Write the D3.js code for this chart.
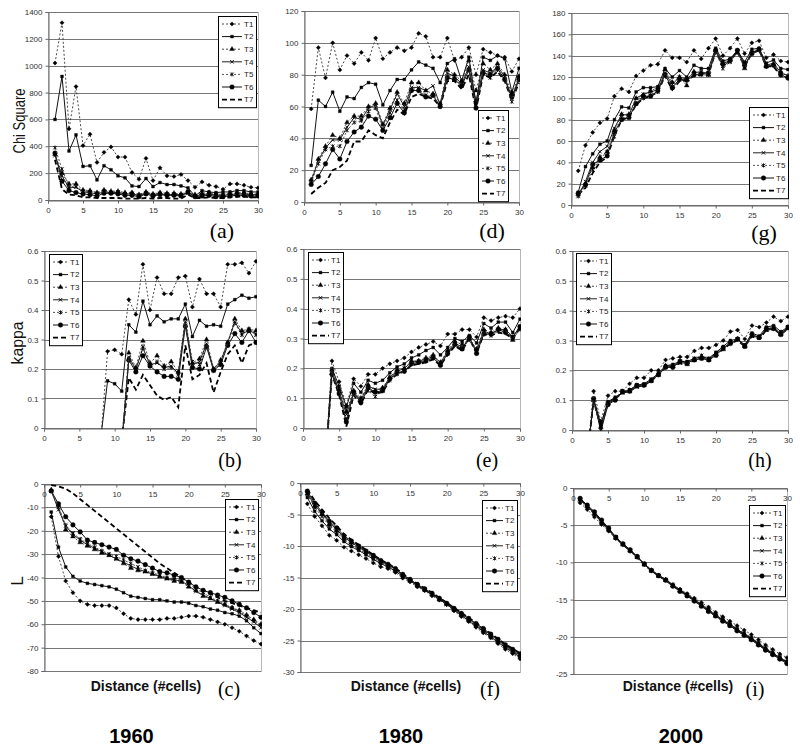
<!DOCTYPE html>
<html><head><meta charset="utf-8">
<script src="https://cdn.jsdelivr.net/npm/d3@7"></script>
<style>body{margin:0;background:#fff} svg text{font-family:Arial,"Liberation Sans",sans-serif}</style>
</head><body><svg id="chart" width="800" height="748"></svg>
<script>
const distance = [1,2,3,4,5,6,7,8,9,10,11,12,13,14,15,16,17,18,19,20,21,22,23,24,25,26,27,28,29,30];
const seriesNames = ["T1","T2","T3","T4","T5","T6","T7"];
const xTicks = [0,5,10,15,20,25,30];
const chiTicks1960 = [0,200,400,600,800,1000,1200,1400];
const chiTicks1980 = [0,20,40,60,80,100,120];
const chiTicks2000 = [0,20,40,60,80,100,120,140,160,180];
const kappaTicks = [0,0.1,0.2,0.3,0.4,0.5,0.6];
const lTicks1960 = [0,-10,-20,-30,-40,-50,-60,-70,-80];
const lTicks1980 = [0,-5,-10,-15,-20,-25,-30];
const lTicks2000 = [0,-5,-10,-15,-20,-25];
const _ = null;

const chi1960 = [
 [1020,1320,530,845,405,490,280,355,395,320,320,205,155,310,145,240,180,175,190,145,95,135,110,100,80,120,120,110,95,90],
 [600,920,365,485,250,255,150,255,225,180,165,105,100,160,100,130,115,115,105,90,30,70,60,55,60,60,70,70,60,60],
 [340,200,120,120,75,70,55,75,65,65,55,55,40,60,45,55,50,50,45,55,40,50,55,45,40,50,55,55,45,45],
 [330,180,90,95,60,55,45,60,55,55,45,45,35,50,40,45,40,40,40,50,30,40,45,35,35,40,45,45,40,40],
 [390,230,100,100,65,60,50,65,55,60,45,50,35,55,40,50,45,45,40,55,30,40,45,35,35,40,45,45,40,40],
 [350,140,70,55,45,40,30,50,50,45,35,35,25,45,30,40,35,35,30,60,25,30,35,25,25,30,35,35,30,30],
 [300,80,40,35,20,20,15,15,15,15,10,10,10,15,10,15,15,10,10,40,15,15,20,15,15,20,25,25,20,20]
];
const chi1980 = [
 [58.5,97,78,100,83,92,87,94,89,103,90,94,97,95,97,106,104,91,91,103,89,91,97,80,96,94,92,91,82,90],
 [23,64,60,69,57,66,65,72,75,74,61,70,77,77,83,88,86,84,75,87,90,76,91,62,91,89,92,90,69,84],
 [14,27,35,42,40,50,54,54,60,62,49,59,69,62,75,75,70,68,62,83,80,76,89,70,87,83,87,80,68,79],
 [13,26,34,39,39,47,53,52,59,61,48,58,68,60,72,72,70,73,61,81,79,74,85,63,83,81,85,79,65,78],
 [12,24,33,35,35,45,50,51,57,59,46,56,64,58,71,71,67,67,60,79,78,73,83,61,82,78,83,77,63,77],
 [11,16,24,33,27,38,44,47,54,52,45,53,62,56,70,70,66,67,60,78,77,73,83,59,81,80,84,77,66,77],
 [5,9,12,20,22,26,38,38,45,42,40,50,58,55,66,68,66,65,60,76,76,71,80,58,80,78,82,76,64,75]
];
const chi2000 = [
 [32,56,68,77,81,102,109,106,121,126,131,132,145,138,138,134,145,137,147,156,140,147,156,142,152,154,138,141,135,134],
 [12,36,48,57,60,80,92,91,106,110,110,111,128,120,126,120,131,128,128,147,135,137,145,134,146,147,133,136,128,127],
 [10,20,35,45,50,70,85,85,100,103,107,110,127,115,120,112,125,124,122,145,133,136,143,128,142,146,130,132,125,121],
 [9,22,40,50,55,72,85,84,100,104,106,108,124,113,120,118,124,125,123,144,130,135,144,131,142,145,131,133,124,121],
 [8,18,33,43,50,64,82,82,95,100,103,106,122,110,117,117,122,122,122,143,128,134,143,130,141,145,130,131,122,120],
 [11,19,38,42,46,68,80,82,95,102,102,107,122,110,118,117,122,123,124,145,132,136,145,131,143,146,130,131,122,119],
 [10,16,30,40,45,65,80,82,94,100,102,106,121,108,116,117,121,122,122,144,131,135,144,130,142,145,130,130,121,119]
];
const kappa1960 = [
 [_,_,_,_,_,_,_,-0.05,0.26,0.265,0.25,0.435,0.385,0.555,0.40,0.51,0.455,0.455,0.51,0.515,0.41,0.505,0.455,0.455,0.41,0.555,0.555,0.56,0.525,0.565],
 [_,_,_,_,_,_,_,-0.04,0.16,0.15,0.125,0.35,0.325,0.43,0.35,0.38,0.36,0.37,0.37,0.42,0.31,0.365,0.345,0.35,0.345,0.42,0.435,0.45,0.44,0.445],
 [_,_,_,_,_,_,_,_,_,_,-0.06,0.255,0.205,0.295,0.22,0.245,0.21,0.225,0.19,0.37,0.22,0.235,0.30,0.20,0.23,0.29,0.37,0.33,0.335,0.33],
 [_,_,_,_,_,_,_,_,_,_,-0.06,0.24,0.20,0.27,0.215,0.22,0.205,0.21,0.185,0.36,0.215,0.225,0.285,0.20,0.225,0.29,0.36,0.32,0.33,0.32],
 [_,_,_,_,_,_,_,_,_,_,-0.06,0.235,0.195,0.275,0.21,0.225,0.20,0.205,0.18,0.355,0.225,0.215,0.28,0.195,0.22,0.285,0.355,0.315,0.335,0.315],
 [_,_,_,_,_,_,_,_,_,_,-0.06,0.23,0.19,0.245,0.21,0.19,0.175,0.175,0.165,0.345,0.205,0.20,0.275,0.195,0.215,0.28,0.32,0.29,0.33,0.29],
 [_,_,_,_,_,_,_,_,_,_,-0.04,0.17,0.13,0.18,0.145,0.11,0.095,0.105,0.07,0.28,0.165,0.18,0.22,0.12,0.19,0.25,0.28,0.22,0.28,0.29]
];
const kappa1980 = [
 [_,_,-0.15,0.225,0.155,0.075,0.165,0.14,0.18,0.18,0.20,0.215,0.225,0.235,0.255,0.27,0.28,0.29,0.275,0.315,0.315,0.33,0.33,0.305,0.37,0.36,0.37,0.375,0.37,0.40],
 [_,_,-0.15,0.20,0.14,0.07,0.15,0.12,0.16,0.15,0.16,0.185,0.205,0.215,0.235,0.245,0.26,0.27,0.245,0.27,0.30,0.29,0.31,0.285,0.35,0.335,0.355,0.355,0.32,0.365],
 [_,_,-0.15,0.195,0.13,0.055,0.125,0.10,0.145,0.125,0.135,0.17,0.195,0.20,0.225,0.225,0.235,0.245,0.22,0.26,0.29,0.28,0.30,0.265,0.33,0.32,0.335,0.33,0.295,0.335],
 [_,_,-0.15,0.19,0.125,0.045,0.12,0.095,0.14,0.13,0.13,0.17,0.19,0.20,0.22,0.225,0.23,0.24,0.22,0.255,0.285,0.27,0.30,0.26,0.325,0.315,0.33,0.33,0.305,0.34],
 [_,_,-0.15,0.185,0.12,0.03,0.115,0.09,0.125,0.105,0.125,0.16,0.18,0.19,0.215,0.22,0.225,0.235,0.215,0.25,0.28,0.265,0.295,0.255,0.32,0.31,0.325,0.325,0.30,0.33],
 [_,_,-0.15,0.18,0.115,0.02,0.12,0.085,0.135,0.12,0.125,0.165,0.185,0.19,0.215,0.22,0.225,0.235,0.21,0.25,0.28,0.265,0.305,0.25,0.315,0.315,0.33,0.32,0.305,0.34],
 [_,_,-0.15,0.18,0.11,0.005,0.11,0.08,0.13,0.115,0.12,0.16,0.18,0.19,0.21,0.215,0.22,0.23,0.21,0.245,0.275,0.26,0.30,0.25,0.315,0.31,0.32,0.315,0.30,0.335]
];
const kappa2000 = [
 [_,-0.12,0.13,0.03,0.115,0.13,0.13,0.155,0.175,0.175,0.20,0.20,0.235,0.24,0.245,0.245,0.265,0.275,0.275,0.285,0.30,0.33,0.335,0.305,0.35,0.345,0.36,0.38,0.365,0.38],
 [_,-0.12,0.105,0.02,0.095,0.11,0.125,0.135,0.15,0.155,0.17,0.19,0.215,0.22,0.23,0.23,0.24,0.245,0.24,0.26,0.28,0.30,0.305,0.285,0.325,0.315,0.345,0.35,0.33,0.345],
 [_,-0.12,0.10,0.01,0.09,0.105,0.125,0.13,0.145,0.15,0.165,0.185,0.215,0.215,0.225,0.22,0.235,0.245,0.235,0.255,0.27,0.295,0.305,0.28,0.315,0.31,0.335,0.34,0.32,0.34],
 [_,-0.12,0.10,0.005,0.09,0.105,0.125,0.13,0.145,0.15,0.165,0.185,0.21,0.215,0.225,0.225,0.235,0.24,0.235,0.255,0.275,0.29,0.305,0.28,0.315,0.31,0.335,0.34,0.32,0.34],
 [_,-0.12,0.10,0.01,0.09,0.105,0.13,0.135,0.15,0.15,0.17,0.19,0.215,0.215,0.23,0.225,0.24,0.25,0.24,0.26,0.275,0.295,0.305,0.285,0.32,0.31,0.34,0.345,0.325,0.345],
 [_,-0.12,0.105,-0.005,0.085,0.10,0.13,0.13,0.15,0.15,0.165,0.185,0.21,0.21,0.23,0.225,0.235,0.24,0.235,0.25,0.275,0.29,0.305,0.28,0.32,0.31,0.34,0.34,0.32,0.345],
 [_,-0.12,0.10,0.01,0.09,0.105,0.125,0.13,0.145,0.15,0.165,0.185,0.21,0.215,0.225,0.22,0.235,0.24,0.235,0.255,0.27,0.29,0.30,0.28,0.315,0.305,0.335,0.34,0.32,0.34]
];
const l1960 = [
 [-14,-31,-41.5,-46.5,-50,-51.5,-52,-52,-52,-53,-55.5,-57.5,-58,-58,-58,-58,-57.5,-57.5,-57,-56.5,-56.5,-57,-58,-59,-60,-61.5,-63,-65,-67,-68.5],
 [-12,-27,-35.5,-39.5,-41.5,-42.5,-43,-43.5,-44,-45,-46.5,-48,-48.5,-49,-49.5,-49.5,-50,-50.5,-50.5,-51,-52,-52.5,-53.5,-54,-55,-55.5,-56.5,-58.5,-61.5,-64],
 [-2.5,-9,-19.5,-22.5,-25,-26.5,-28,-29.5,-30.5,-32,-34,-36,-37,-37.5,-38.5,-39.5,-40.5,-41.5,-42,-44,-45.5,-48,-49,-50.5,-51.5,-53,-54,-56,-58,-60],
 [-3,-11,-18,-21.5,-24,-26,-27.5,-29,-30.5,-32,-33.5,-35,-36.5,-37.5,-38.5,-39.5,-40.5,-41,-41.5,-43.5,-46,-47.5,-49,-50.5,-52,-53.5,-55,-57,-59,-61.5],
 [-3,-10,-17.5,-21,-23.5,-25.5,-27,-28.5,-30,-31,-32.5,-34,-35.5,-37,-38,-39,-40,-40.5,-41,-42.5,-45,-46.5,-48.5,-50,-51.5,-53,-54.5,-56.5,-58.5,-60.5],
 [-3,-8.5,-14,-17.5,-20.5,-24,-25,-26,-27,-28,-30.5,-32,-33,-34.5,-36,-37.5,-38,-39,-40,-42,-44,-45.5,-46.5,-47.5,-48.5,-50,-51.5,-53,-55,-57],
 [-0.5,-1,-2,-4,-6.5,-9,-11.5,-14,-16.5,-19,-21.5,-24,-26.5,-29,-31.5,-34,-36,-38,-40,-42,-44,-45.5,-47,-48.5,-50,-51,-52,-53,-54,-55]
];
const l1980 = [
 [-3.3,-5.3,-6.8,-8.3,-9.1,-10.2,-10.8,-11.4,-12.0,-12.7,-13.3,-13.6,-14.2,-15.1,-15.7,-16.5,-17.1,-17.9,-18.6,-19.3,-20.3,-21.2,-22.0,-22.9,-23.8,-24.6,-25.5,-26.4,-27.1,-27.9],
 [-2.3,-4.5,-6.0,-7.3,-8.2,-9.3,-10.1,-10.7,-11.4,-12.1,-12.8,-13.3,-14.0,-14.8,-15.5,-16.3,-17.0,-17.7,-18.5,-19.2,-20.2,-21.0,-21.9,-22.7,-23.6,-24.4,-25.3,-26.1,-26.9,-27.6],
 [-1.7,-3.7,-5.0,-6.6,-7.6,-8.8,-9.5,-10.3,-11.0,-11.7,-12.5,-13.1,-13.8,-14.6,-15.4,-16.2,-16.9,-17.6,-18.4,-19.2,-20.0,-20.8,-21.7,-22.5,-23.4,-24.2,-25.1,-25.9,-26.7,-27.4],
 [-1.6,-3.5,-4.8,-6.3,-7.4,-8.6,-9.4,-10.2,-10.9,-11.6,-12.4,-13.0,-13.7,-14.6,-15.4,-16.2,-16.9,-17.6,-18.4,-19.2,-20.0,-20.8,-21.6,-22.4,-23.3,-24.1,-25.0,-25.8,-26.6,-27.3],
 [-1.8,-3.9,-5.3,-6.8,-7.8,-9.0,-9.8,-10.5,-11.2,-11.9,-12.6,-13.2,-13.9,-14.7,-15.5,-16.3,-17.0,-17.7,-18.5,-19.3,-20.1,-20.9,-21.8,-22.6,-23.5,-24.3,-25.2,-26.0,-26.8,-27.5],
 [-1.3,-3.2,-4.6,-6.1,-7.1,-8.4,-9.2,-10.0,-10.8,-11.5,-12.3,-12.9,-13.6,-14.5,-15.3,-16.1,-16.8,-17.5,-18.3,-19.1,-19.9,-20.7,-21.5,-22.3,-23.1,-24.0,-24.8,-25.7,-26.4,-27.1],
 [-1.0,-2.8,-4.2,-5.6,-6.8,-8.1,-9.0,-9.8,-10.6,-11.4,-12.2,-12.8,-13.5,-14.4,-15.2,-16.0,-16.7,-17.4,-18.2,-19.0,-19.8,-20.6,-21.4,-22.2,-23.0,-23.9,-24.7,-25.6,-26.3,-27.0]
];
const l2000 = [
 [-2.0,-2.9,-3.9,-4.9,-5.8,-6.8,-7.6,-8.5,-9.3,-10.2,-11.0,-11.7,-12.3,-13.0,-13.6,-14.2,-14.8,-15.4,-16.0,-16.7,-17.3,-17.9,-18.5,-19.1,-19.7,-20.4,-21.1,-21.7,-22.3,-22.8],
 [-1.5,-2.4,-3.4,-4.5,-5.6,-6.7,-7.6,-8.4,-9.3,-10.3,-11.1,-11.8,-12.3,-13.1,-13.7,-14.4,-15.0,-15.7,-16.4,-17.1,-17.7,-18.3,-19.0,-19.6,-20.2,-20.9,-21.6,-22.2,-22.8,-23.4],
 [-1.6,-2.5,-3.5,-4.6,-5.6,-6.7,-7.6,-8.4,-9.3,-10.3,-11.1,-11.8,-12.4,-13.1,-13.8,-14.4,-15.1,-15.8,-16.5,-17.2,-17.8,-18.4,-19.1,-19.7,-20.3,-21.0,-21.6,-22.3,-22.9,-23.4],
 [-1.5,-2.4,-3.3,-4.4,-5.5,-6.6,-7.5,-8.4,-9.3,-10.2,-11.1,-11.8,-12.4,-13.1,-13.8,-14.5,-15.1,-15.8,-16.5,-17.2,-17.8,-18.5,-19.1,-19.7,-20.3,-21.0,-21.7,-22.3,-22.9,-23.5],
 [-1.7,-2.6,-3.5,-4.6,-5.7,-6.7,-7.6,-8.5,-9.3,-10.3,-11.1,-11.7,-12.3,-13.0,-13.7,-14.3,-15.0,-15.6,-16.3,-17.0,-17.6,-18.2,-18.9,-19.5,-20.1,-20.8,-21.5,-22.1,-22.7,-23.3],
 [-1.4,-2.3,-3.2,-4.3,-5.4,-6.6,-7.5,-8.3,-9.2,-10.2,-11.1,-11.8,-12.4,-13.2,-13.9,-14.5,-15.2,-15.9,-16.6,-17.2,-17.9,-18.5,-19.2,-19.8,-20.4,-21.1,-21.8,-22.4,-23.0,-23.6],
 [-1.5,-2.4,-3.4,-4.5,-5.6,-6.7,-7.6,-8.4,-9.3,-10.3,-11.1,-11.8,-12.4,-13.1,-13.8,-14.4,-15.1,-15.8,-16.5,-17.2,-17.8,-18.4,-19.1,-19.7,-20.3,-21.0,-21.7,-22.3,-22.9,-23.5]
];
const panelLetters = ["(a)","(b)","(c)","(d)","(e)","(f)","(g)","(h)","(i)"];
const yearLabels = ["1960","1980","2000"];
const rowTitles = ["Chi Square","kappa","L"];
const xTitle = "Distance (#cells)";

// ---------- drawing ----------
const svg = d3.select("#chart");

const symDiamond = {draw(c,s){const r=Math.sqrt(s)/1.5;c.moveTo(0,-r);c.lineTo(r,0);c.lineTo(0,r);c.lineTo(-r,0);c.closePath();}};
const symTimes = {draw(c,s){const r=Math.sqrt(s)/2;c.moveTo(-r,-r);c.lineTo(r,r);c.moveTo(r,-r);c.lineTo(-r,r);}};
const symAst = {draw(c,s){const r=Math.sqrt(s)/2;c.moveTo(-r,-r);c.lineTo(r,r);c.moveTo(r,-r);c.lineTo(-r,r);c.moveTo(0,-r*1.2);c.lineTo(0,r*1.2);}};
const styles = [
 {dash:"2,2", w:0.9, col:"#333", sym:symDiamond, size:10, fill:true},
 {dash:null, w:1, col:"#111", sym:d3.symbolSquare, size:8, fill:true},
 {dash:"2,2", w:0.9, col:"#333", sym:d3.symbolTriangle, size:10, fill:true},
 {dash:null, w:1, col:"#222", sym:symTimes, size:12, fill:false},
 {dash:"2,2", w:0.9, col:"#444", sym:symAst, size:12, fill:false},
 {dash:null, w:1, col:"#111", sym:d3.symbolCircle, size:17, fill:true},
 {dash:"5,3", w:1.8, col:"#000", sym:null}
];

const panels = [
 {data:chi1960, ticks:chiTicks1960, rect:[48,258,12,200], top:false, leg:[218,16,38], letter:[222,238,22]},
 {data:kappa1960, ticks:kappaTicks, rect:[44,256,251,428], top:false, leg:[49,254,33], letter:[230,467,20]},
 {data:l1960, ticks:lTicks1960, rect:[44,261,484,671], top:true, leg:[225,499,33], letter:[229,696,20]},
 {data:chi1980, ticks:chiTicks1980, rect:[304,519,11,202], top:false, leg:[478,110,30], letter:[492,238,22]},
 {data:kappa1980, ticks:kappaTicks, rect:[303,520,249,428], top:false, leg:[308,252,35], letter:[487,467,20]},
 {data:l1980, ticks:lTicks1980, rect:[300,520,483,672], top:true, leg:[482,500,35], letter:[490,696,20]},
 {data:chi2000, ticks:chiTicks2000, rect:[571,788,13,205], top:false, leg:[749,107,39], letter:[764,240,22]},
 {data:kappa2000, ticks:kappaTicks, rect:[572,788,251,430], top:false, leg:[576,253,35], letter:[760,467,20]},
 {data:l2000, ticks:lTicks2000, rect:[573,787,488,674], top:true, leg:[749,505,36], letter:[755,696,20]}
];

panels.forEach((p,pi)=>{
  const [x0,x1,y0,y1] = p.rect;
  const ext = d3.extent(p.ticks);
  const x = d3.scaleLinear().domain([0,30]).range([x0,x1]);
  const y = d3.scaleLinear().domain(ext).range([y1,y0]);
  const g = svg.append("g");
  g.append("rect").attr("x",x0+0.5).attr("y",y0+0.5).attr("width",x1-x0).attr("height",y1-y0)
    .attr("fill","none").attr("stroke","#b8b8b8");
  g.selectAll(".grid").data(p.ticks).join("line")
    .attr("x1",x0).attr("x2",x1)
    .attr("y1",d=>Math.round(y(d))+0.5).attr("y2",d=>Math.round(y(d))+0.5)
    .attr("stroke","#777").attr("stroke-width",1);
  const ya = g.append("g").attr("transform",`translate(${x0+0.5},0)`)
    .call(d3.axisLeft(y).tickValues(p.ticks).tickSize(3).tickPadding(3).tickFormat(d=>String(d)));
  const xy = p.top ? y(0) : y1;
  const xa = g.append("g").attr("transform",`translate(0,${Math.round(xy)+0.5})`)
    .call(d3.axisBottom(x).tickValues(xTicks).tickSize(3).tickPadding(4).tickFormat(d=>String(d)));
  [ya,xa].forEach(a=>{
    a.select(".domain").attr("stroke","#666");
    a.selectAll(".tick line").attr("stroke","#666");
    a.selectAll("text").attr("font-size","8px").attr("fill","#333").attr("font-family","Arial, 'Liberation Sans', sans-serif");
  });
  const cid = "clip"+pi;
  svg.append("clipPath").attr("id",cid).append("rect").attr("x",x0).attr("y",y0-1).attr("width",x1-x0+1).attr("height",y1-y0+2);
  const plot = g.append("g").attr("clip-path",`url(#${cid})`);
  for (let si=p.data.length-1; si>=0; si--) {
    const vals = p.data[si];
    const st = styles[si];
    const pts = distance.map((d,i)=>({x:d,v:vals[i]}));
    const line = d3.line().defined(d=>d.v!==null).x(d=>x(d.x)).y(d=>y(d.v));
    plot.append("path").attr("d",line(pts)).attr("fill","none")
      .attr("stroke",st.col).attr("stroke-width",st.w)
      .attr("stroke-dasharray",st.dash);
    if (st.sym) {
      const sym = d3.symbol().type(st.sym).size(st.size);
      plot.selectAll(null).data(pts.filter(d=>d.v!==null && d.v>=ext[0] && d.v<=ext[1])).join("path")
        .attr("transform",d=>`translate(${x(d.x)},${y(d.v)})`)
        .attr("d",sym())
        .attr("fill",st.fill?"#000":"none")
        .attr("stroke","#000").attr("stroke-width",st.fill?0.4:0.9);
    }
  }
  const [lx,ly,lw] = p.leg;
  const lg = g.append("g");
  const rowH = 12.6;
  lg.append("rect").attr("x",lx+0.5).attr("y",ly+0.5).attr("width",lw).attr("height",rowH*7+3)
    .attr("fill","#fff").attr("stroke","#000").attr("stroke-width",1);
  seriesNames.forEach((nm,si)=>{
    const st = styles[si];
    const cy = ly + 8 + si*rowH;
    const sx0 = lx+4, sx1 = lx+lw-14;
    lg.append("line").attr("x1",sx0).attr("x2",sx1).attr("y1",cy).attr("y2",cy)
      .attr("stroke",st.col).attr("stroke-width",st.w).attr("stroke-dasharray",st.dash);
    if (st.sym) {
      lg.append("path").attr("transform",`translate(${(sx0+sx1)/2},${cy})`)
        .attr("d",d3.symbol().type(st.sym).size(st.size)())
        .attr("fill",st.fill?"#000":"none").attr("stroke","#000").attr("stroke-width",st.fill?0.4:0.9);
    }
    lg.append("text").attr("x",lx+lw-12).attr("y",cy).attr("dy","0.35em")
      .attr("font-size","8px").attr("fill","#222").text(nm);
  });
  const [tx,ty,ts] = p.letter;
  svg.append("text").attr("x",tx).attr("y",ty).attr("text-anchor","middle")
    .style("font-family","'Liberation Serif','Times New Roman',serif").attr("font-size",ts+"px")
    .text(panelLetters[pi]);
});

const rowTitlePos = [[19,121,65],[17,343,43],[17,581,null]];
rowTitles.forEach((t,i)=>{
  const [cx,cy,len] = rowTitlePos[i];
  const tt = svg.append("text").attr("transform",`translate(${cx},${cy}) rotate(-90)`)
    .attr("text-anchor","middle").attr("dy","0.35em").attr("font-size","17px").attr("fill","#111").text(t);
  if (len) tt.attr("textLength",len).attr("lengthAdjust","spacingAndGlyphs");
});
[146,406,678].forEach(cx=>{
  svg.append("text").attr("x",cx).attr("y",691).attr("text-anchor","middle")
    .attr("font-size","14px").attr("font-weight","bold").attr("fill","#111").text(xTitle);
});
[131.5,401,681].forEach((cx,i)=>{
  svg.append("text").attr("x",cx).attr("y",743).attr("text-anchor","middle")
    .attr("font-size","20px").attr("font-weight","bold").attr("fill","#000").text(yearLabels[i]);
});
</script></body></html>
